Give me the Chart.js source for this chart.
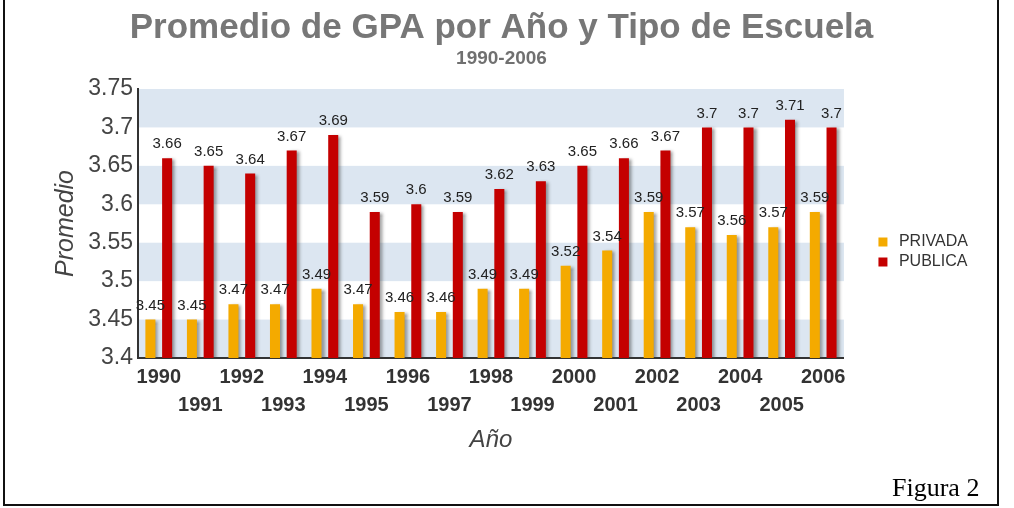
<!DOCTYPE html>
<html>
<head>
<meta charset="utf-8">
<title>Promedio de GPA</title>
<script src="https://cdn.jsdelivr.net/npm/chart.js@4.4.1/dist/chart.umd.min.js"></script>
<style>
  html, body { margin: 0; padding: 0; background: #fff; overflow: hidden; }
  #wrap { position: relative; width: 1014px; height: 508px; }
  #myChart { position: absolute; left: 0; top: 0; }
  #frame {
    position: absolute; left: 3px; top: -10px; width: 996px; height: 516px;
    box-sizing: border-box; border: 2px solid #111; pointer-events: none;
  }
  #figura {
    position: absolute; left: 892px; top: 475px; line-height: 26px;
    font-family: 'Liberation Serif', 'Times New Roman', serif; font-size: 26px; color: #000;
  }
</style>
</head>
<body>
<div id="wrap">
  <canvas id="myChart" width="1014" height="508"></canvas>
  <div id="frame"></div>
  <div id="figura">Figura 2</div>
</div>
<script>
// ***** DATA *****
const years = ['1990', '1991', '1992', '1993', '1994', '1995', '1996', '1997', '1998',
  '1999', '2000', '2001', '2002', '2003', '2004', '2005', '2006'];
const privada = [3.45, 3.45, 3.47, 3.47, 3.49, 3.47, 3.46, 3.46, 3.49, 3.49, 3.52, 3.54, 3.59, 3.57, 3.56, 3.57, 3.59];
const publica = [3.66, 3.65, 3.64, 3.67, 3.69, 3.59, 3.6, 3.59, 3.62, 3.63, 3.65, 3.66, 3.67, 3.7, 3.7, 3.71, 3.7];
const seriesNames = ['PRIVADA', 'PUBLICA'];
const yMin = 3.4;
const yMax = 3.75;
const yStep = 0.05;

// ***** STYLE *****
const FONT = '"Liberation Sans", Arial, sans-serif';
const ctx = document.getElementById('myChart').getContext('2d');
Chart.defaults.font.family = FONT;

// light blue bands behind every other step
const bandPlugin = {
  id: 'bands',
  beforeDraw(chart) {
    const area = chart.chartArea;
    const y = chart.scales.y;
    const c = chart.ctx;
    c.save();
    c.fillStyle = '#dce6f1';
    for (let v = yMin; v < yMax - 0.001; v += yStep * 2) {
      const top = y.getPixelForValue(v + yStep);
      const bottom = y.getPixelForValue(v);
      c.fillRect(area.left, top, area.right - area.left, bottom - top);
    }
    c.restore();
  }
};

// bar shadow + value labels
const barExtras = {
  id: 'barExtras',
  beforeDatasetsDraw(chart) {
    const c = chart.ctx;
    c.save();
    c.shadowColor = 'rgba(60,60,60,0.5)';
    c.shadowOffsetX = 3;
    c.shadowOffsetY = 1;
    c.shadowBlur = 3;
  },
  afterDatasetsDraw(chart) {
    const c = chart.ctx;
    c.restore();
    c.save();
    c.font = '15px ' + FONT;
    c.fillStyle = '#222';
    c.textAlign = 'center';
    c.textBaseline = 'middle';
    chart.data.datasets.forEach((ds, i) => {
      chart.getDatasetMeta(i).data.forEach((bar, j) => {
        c.fillText(String(ds.data[j]), bar.x, bar.y - 14);
      });
    });
    c.restore();
  }
};

new Chart(ctx, {
  type: 'bar',
  data: {
    labels: years,
    datasets: [
      {
        label: seriesNames[0],
        data: privada,
        backgroundColor: '#f4aa00',
        borderWidth: 0,
        categoryPercentage: 0.805,
        barPercentage: 0.6
      },
      {
        label: seriesNames[1],
        data: publica,
        backgroundColor: '#c40000',
        borderWidth: 0,
        categoryPercentage: 0.805,
        barPercentage: 0.6
      }
    ]
  },
  options: {
    responsive: false,
    animation: false,
    layout: { padding: { left: 25, right: 36, top: 0, bottom: 4 } },
    plugins: {
      title: {
        display: true,
        text: 'Promedio de GPA por Año y Tipo de Escuela',
        color: '#777',
        font: { size: 35, weight: 'bold', lineHeight: 1 },
        padding: { top: 11, bottom: 0 }
      },
      subtitle: {
        display: true,
        text: '1990-2006',
        color: '#707070',
        font: { size: 19, weight: 'bold', lineHeight: 1 },
        padding: { top: 3.5, bottom: 20.5 }
      },
      legend: {
        position: 'right',
        labels: {
          usePointStyle: true,
          pointStyle: 'rect',
          boxHeight: 9,
          padding: 4,
          color: '#333',
          font: { size: 16 }
        }
      },
      tooltip: { enabled: false }
    },
    scales: {
      x: {
        grid: { display: false, drawTicks: false },
        border: { display: true, color: '#333', width: 2 },
        ticks: {
          autoSkip: false,
          maxRotation: 0,
          padding: 5,
          color: '#333',
          font: { size: 20, weight: 'bold', lineHeight: 1.4 },
          callback: (value, index) => index % 2 === 0 ? [years[index], ''] : ['', years[index]]
        },
        title: {
          display: true,
          text: 'Año',
          color: '#444',
          font: { size: 24, style: 'italic', lineHeight: 1.2 },
          padding: { top: 0, bottom: 49.6 }
        },
        afterFit(scale) { scale.height = 146; }
      },
      y: {
        min: yMin,
        max: yMax,
        grid: { display: false, drawTicks: false },
        border: { display: true, color: '#333', width: 2 },
        ticks: {
          stepSize: yStep,
          padding: 5,
          color: '#444',
          font: { size: 23 },
          callback: (value) => String(Number(value.toFixed(2)))
        },
        title: {
          display: true,
          text: 'Promedio',
          color: '#444',
          font: { size: 25, style: 'italic', lineHeight: 1.2 },
          padding: { top: 26, bottom: 0 }
        },
        afterFit(scale) { scale.width = 113; }
      },
      // empty spacer between plot and legend
      gap: {
        type: 'linear',
        position: 'right',
        display: true,
        grid: { display: false, drawTicks: false },
        border: { display: false },
        ticks: { display: false },
        afterFit(scale) { scale.width = 27; }
      }
    }
  },
  plugins: [bandPlugin, barExtras]
});
</script>
</body>
</html>
